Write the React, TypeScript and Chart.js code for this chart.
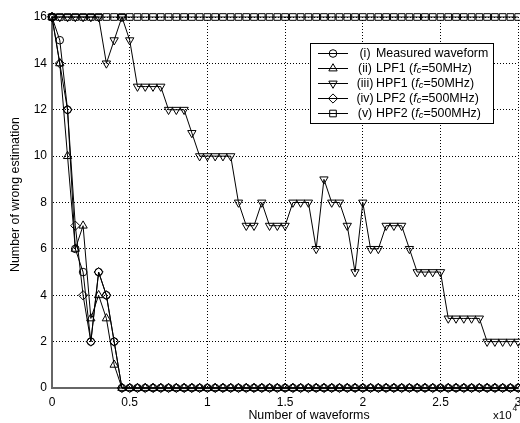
import React, { useEffect, useRef } from 'react';
import { Chart, registerables } from 'chart.js';

Chart.register(...registerables);

// ---- data (x in number of waveforms, y = number of wrong estimation) ----
const WAVEFORMS = [
  0, 500, 1000, 1500, 2000, 2500, 3000, 3500, 4000, 4500,
  5000, 5500, 6000, 6500, 7000, 7500, 8000, 8500, 9000, 9500,
  10000, 10500, 11000, 11500, 12000, 12500, 13000, 13500, 14000, 14500,
  15000, 15500, 16000, 16500, 17000, 17500, 18000, 18500, 19000, 19500,
  20000, 20500, 21000, 21500, 22000, 22500, 23000, 23500, 24000, 24500,
  25000, 25500, 26000, 26500, 27000, 27500, 28000, 28500, 29000, 29500,
  30000,
];

const MEASURED = [
  16, 15, 12, 6, 5, 2, 5, 4, 2, 0,
  0, 0, 0, 0, 0, 0, 0, 0, 0, 0,
  0, 0, 0, 0, 0, 0, 0, 0, 0, 0,
  0, 0, 0, 0, 0, 0, 0, 0, 0, 0,
  0, 0, 0, 0, 0, 0, 0, 0, 0, 0,
  0, 0, 0, 0, 0, 0, 0, 0, 0, 0,
  0,
];

const LPF1 = [
  16, 14, 10, 6, 7, 3, 4, 3, 1, 0,
  0, 0, 0, 0, 0, 0, 0, 0, 0, 0,
  0, 0, 0, 0, 0, 0, 0, 0, 0, 0,
  0, 0, 0, 0, 0, 0, 0, 0, 0, 0,
  0, 0, 0, 0, 0, 0, 0, 0, 0, 0,
  0, 0, 0, 0, 0, 0, 0, 0, 0, 0,
  0,
];

const HPF1 = [
  16, 16, 16, 16, 16, 16, 16, 14, 15, 16,
  15, 13, 13, 13, 13, 12, 12, 12, 11, 10,
  10, 10, 10, 10, 8, 7, 7, 8, 7, 7,
  7, 8, 8, 8, 6, 9, 8, 8, 7, 5,
  8, 6, 6, 7, 7, 7, 6, 5, 5, 5,
  5, 3, 3, 3, 3, 3, 2, 2, 2, 2,
  2,
];

const LPF2 = [
  16, 14, 12, 7, 4, 2, 5, 4, 2, 0,
  0, 0, 0, 0, 0, 0, 0, 0, 0, 0,
  0, 0, 0, 0, 0, 0, 0, 0, 0, 0,
  0, 0, 0, 0, 0, 0, 0, 0, 0, 0,
  0, 0, 0, 0, 0, 0, 0, 0, 0, 0,
  0, 0, 0, 0, 0, 0, 0, 0, 0, 0,
  0,
];

const HPF2 = [
  16, 16, 16, 16, 16, 16, 16, 16, 16, 16,
  16, 16, 16, 16, 16, 16, 16, 16, 16, 16,
  16, 16, 16, 16, 16, 16, 16, 16, 16, 16,
  16, 16, 16, 16, 16, 16, 16, 16, 16, 16,
  16, 16, 16, 16, 16, 16, 16, 16, 16, 16,
  16, 16, 16, 16, 16, 16, 16, 16, 16, 16,
  16,
];

const X_MIN = 0;
const X_MAX = 30000;
const X_STEP = 5000;
const X_SCALE_FACTOR = 10000;
const Y_MIN = 0;
const Y_MAX = 16;
const Y_STEP = 2;

const X_TITLE = 'Number of waveforms';
const Y_TITLE = 'Number of wrong estimation';

type Series = {
  num: string;
  pre: string;
  fc: boolean;
  post: string;
  data: number[];
  style: string;
  rot: number;
  r: number;
};

const SERIES: Series[] = [
  { num: '(i)', pre: 'Measured waveform', fc: false, post: '', data: MEASURED, style: 'circle', rot: 0, r: 3.8 },
  { num: '(ii)', pre: 'LPF1 (', fc: true, post: '=50MHz)', data: LPF1, style: 'triangle', rot: 0, r: 4.8 },
  { num: '(iii)', pre: 'HPF1 (', fc: true, post: '=50MHz)', data: HPF1, style: 'triangle', rot: 180, r: 4.8 },
  { num: '(iv)', pre: 'LPF2 (', fc: true, post: '=500MHz)', data: LPF2, style: 'rectRot', rot: 0, r: 4.6 },
  { num: '(v)', pre: 'HPF2 (', fc: true, post: '=500MHz)', data: HPF2, style: 'rect', rot: 0, r: 4.7 },
];

const FAMILY = '"Liberation Sans", Arial, Helvetica, sans-serif';

function drawMarker(ctx: CanvasRenderingContext2D, style: string, r: number, x: number, y: number, rotDeg: number) {
  ctx.beginPath();
  if (style === 'circle') {
    ctx.arc(x, y, r, 0, Math.PI * 2);
  } else if (style === 'triangle') {
    let a = (rotDeg * Math.PI) / 180;
    for (let k = 0; k < 3; k++) {
      const px = x + Math.sin(a) * r;
      const py = y - Math.cos(a) * r;
      if (k === 0) ctx.moveTo(px, py);
      else ctx.lineTo(px, py);
      a += (2 * Math.PI) / 3;
    }
    ctx.closePath();
  } else if (style === 'rectRot') {
    ctx.moveTo(x, y - r);
    ctx.lineTo(x + r, y);
    ctx.lineTo(x, y + r);
    ctx.lineTo(x - r, y);
    ctx.closePath();
  } else {
    const s = r * Math.SQRT1_2;
    ctx.rect(x - s, y - s, 2 * s, 2 * s);
  }
  ctx.stroke();
}

const decorPlugin = {
  id: 'decor',
  afterDraw(chart: any) {
    const ctx: CanvasRenderingContext2D = chart.ctx;
    ctx.save();
    ctx.fillStyle = '#000';
    ctx.strokeStyle = '#000';

    // axis titles
    ctx.font = `12.4px ${FAMILY}`;
    ctx.textAlign = 'center';
    ctx.textBaseline = 'middle';
    ctx.fillText(X_TITLE, 309, 416);
    ctx.save();
    ctx.translate(16, 194.5);
    ctx.rotate(-Math.PI / 2);
    ctx.fillText(Y_TITLE, 0, 0);
    ctx.restore();

    // x10^4 exponent
    ctx.textAlign = 'left';
    ctx.font = `11.5px ${FAMILY}`;
    ctx.fillText('x10', 493, 415.5);
    ctx.font = `8.5px ${FAMILY}`;
    ctx.fillText('4', 512.5, 409);

    // legend box
    const bx = 310.5, by = 43.5, bw = 183, bh = 80;
    ctx.fillStyle = '#fff';
    ctx.fillRect(bx, by, bw, bh);
    ctx.lineWidth = 1;
    ctx.strokeStyle = '#000';
    ctx.strokeRect(bx, by, bw, bh);

    SERIES.forEach((s, i) => {
      const y = 53 + i * 15.1;
      ctx.strokeStyle = '#000';
      ctx.lineWidth = 1;
      ctx.beginPath();
      ctx.moveTo(318, Math.round(y) + 0.5);
      ctx.lineTo(348, Math.round(y) + 0.5);
      ctx.stroke();
      drawMarker(ctx, s.style, s.r, 333, Math.round(y) + 0.5, s.rot);

      ctx.fillStyle = '#000';
      ctx.textBaseline = 'middle';
      ctx.font = `12.4px ${FAMILY}`;
      ctx.textAlign = 'center';
      ctx.fillText(s.num, 365, y + 0.5);
      ctx.textAlign = 'left';
      let x = 376;
      ctx.fillText(s.pre, x, y + 0.5);
      x += ctx.measureText(s.pre).width;
      if (s.fc) {
        ctx.font = `italic 12.4px ${FAMILY}`;
        ctx.fillText('f', x, y + 0.5);
        x += ctx.measureText('f').width;
        ctx.font = `italic 9.5px ${FAMILY}`;
        ctx.fillText('c', x, y + 2);
        x += ctx.measureText('c').width;
        ctx.font = `12.4px ${FAMILY}`;
        ctx.fillText(s.post, x, y + 0.5);
      }
    });
    ctx.restore();
  },
};

export default function App() {
  const ref = useRef<HTMLCanvasElement | null>(null);

  useEffect(() => {
    if (!ref.current) return;
    Chart.defaults.font.family = FAMILY;
    const gridColor = (c: any) =>
      c.tick && c.tick.value === 0 ? 'rgba(0,0,0,0)' : '#000';

    const chart = new Chart(ref.current, {
      type: 'line',
      data: {
        datasets: SERIES.map((s) => ({
          label: s.num,
          data: WAVEFORMS.map((x, i) => ({ x, y: s.data[i] })),
          borderColor: '#000',
          borderWidth: 1,
          pointStyle: s.style as any,
          pointRotation: s.rot,
          pointRadius: s.r,
          pointBorderColor: '#000',
          pointBorderWidth: 1,
          pointBackgroundColor: 'rgba(0,0,0,0)',
          backgroundColor: 'rgba(0,0,0,0)',
          tension: 0,
          fill: false,
          clip: false as any,
        })),
      },
      options: {
        responsive: false,
        animation: false,
        events: [],
        layout: { padding: { top: 17, right: 2, left: 0, bottom: 0 } },
        plugins: {
          legend: { display: false },
          tooltip: { enabled: false },
        },
        scales: {
          x: {
            type: 'linear',
            min: X_MIN,
            max: X_MAX,
            ticks: {
              stepSize: X_STEP,
              autoSkip: false,
              maxRotation: 0,
              padding: 7,
              color: '#000',
              font: { size: 12 },
              callback: (v: any) => String(Number(v) / X_SCALE_FACTOR),
            },
            grid: { drawTicks: false, color: gridColor, lineWidth: 1 },
            border: { display: true, color: '#666', width: 2, dash: [1, 2] },
            afterFit: (s: any) => {
              s.height = 35;
              s.paddingLeft = 0;
              s.paddingRight = 0;
            },
          },
          y: {
            type: 'linear',
            min: Y_MIN,
            max: Y_MAX,
            ticks: {
              stepSize: Y_STEP,
              padding: 5,
              color: '#000',
              font: { size: 12 },
            },
            grid: { drawTicks: false, color: gridColor, lineWidth: 1 },
            border: { display: true, color: '#666', width: 2, dash: [1, 2] },
            afterFit: (s: any) => {
              s.width = 52;
              s.paddingTop = 0;
              s.paddingBottom = 0;
            },
          },
        },
      },
      plugins: [decorPlugin],
    });
    return () => chart.destroy();
  }, []);

  return (
    <div
      style={{
        position: 'fixed',
        left: 0,
        top: 0,
        width: 520,
        height: 423,
        overflow: 'hidden',
        background: '#fff',
      }}
    >
      <canvas ref={ref} width={524} height={423} style={{ display: 'block', width: 524, height: 423 }} />
    </div>
  );
}
